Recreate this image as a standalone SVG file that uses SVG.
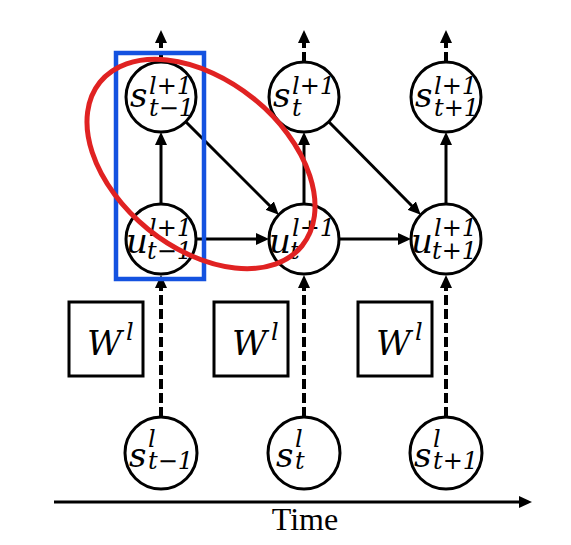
<svg xmlns="http://www.w3.org/2000/svg" width="571" height="545" viewBox="0 0 571 545">
<style>
.c{fill:#fff;stroke:#000;stroke-width:3}
.b{fill:#fff;stroke:#000;stroke-width:3}
.m{font-family:"DejaVu Serif","Liberation Serif",serif;font-style:italic;fill:#000}
.big{font-size:34px}
.sm{font-size:24px}
.e{stroke:#000;stroke-width:3;fill:none}
.d{stroke:#000;stroke-width:4;fill:none;stroke-dasharray:10 4}
</style>
<defs>
<marker id="ah" markerUnits="userSpaceOnUse" markerWidth="14" markerHeight="12" refX="2" refY="6" orient="auto">
<path d="M0,0 L13,6 L0,12 z" fill="#000"/>
</marker>
</defs>
<rect width="571" height="545" fill="#fff"/>
<g id="connectors">
<line class="d" x1="161" y1="62" x2="161" y2="41" marker-end="url(#ah)"/>
<line class="d" x1="304" y1="62" x2="304" y2="41" marker-end="url(#ah)"/>
<line class="d" x1="446" y1="62" x2="446" y2="41" marker-end="url(#ah)"/>
<line class="e" x1="161" y1="204" x2="161" y2="143" marker-end="url(#ah)"/>
<line class="e" x1="304" y1="204" x2="304" y2="143" marker-end="url(#ah)"/>
<line class="e" x1="446" y1="204" x2="446" y2="143" marker-end="url(#ah)"/>
<line class="e" x1="196" y1="239" x2="258" y2="239" marker-end="url(#ah)"/>
<line class="e" x1="339" y1="239" x2="400" y2="239" marker-end="url(#ah)"/>
<line class="e" x1="186" y1="122" x2="271" y2="207" marker-end="url(#ah)"/>
<line class="e" x1="329" y1="122" x2="413" y2="207" marker-end="url(#ah)"/>
<line class="d" x1="161" y1="417" x2="161" y2="286" marker-end="url(#ah)"/>
<line class="d" x1="304" y1="417" x2="304" y2="286" marker-end="url(#ah)"/>
<line class="d" x1="446" y1="417" x2="446" y2="286" marker-end="url(#ah)"/>
<line class="e" x1="54" y1="502" x2="521" y2="502" marker-end="url(#ah)"/>
</g>
<g id="s_tm1_l1">
<circle class="c" cx="161" cy="97" r="35"/>
<text class="m big" x="130" y="107">s</text>
<text class="m sm" x="149" y="94">l+1</text>
<text class="m sm" x="149" y="116">t−1</text>
</g>
<g id="s_t_l1">
<circle class="c" cx="304" cy="97" r="35"/>
<text class="m big" x="273" y="107">s</text>
<text class="m sm" x="292" y="94">l+1</text>
<text class="m sm" x="292" y="116">t</text>
</g>
<g id="s_tp1_l1">
<circle class="c" cx="446" cy="97" r="35"/>
<text class="m big" x="415" y="107">s</text>
<text class="m sm" x="434" y="94">l+1</text>
<text class="m sm" x="434" y="116">t+1</text>
</g>
<g id="u_tm1_l1">
<circle class="c" cx="161" cy="239" r="35"/>
<text class="m big" x="126" y="253">u</text>
<text class="m sm" x="149" y="236">l+1</text>
<text class="m sm" x="147" y="259">t−1</text>
</g>
<g id="u_t_l1">
<circle class="c" cx="304" cy="239" r="35"/>
<text class="m big" x="269" y="253">u</text>
<text class="m sm" x="292" y="236">l+1</text>
<text class="m sm" x="290" y="259">t</text>
</g>
<g id="u_tp1_l1">
<circle class="c" cx="446" cy="239" r="35"/>
<text class="m big" x="411" y="253">u</text>
<text class="m sm" x="434" y="236">l+1</text>
<text class="m sm" x="432" y="259">t+1</text>
</g>
<g id="W1">
<rect class="b" x="69" y="302" width="74" height="74"/>
<text class="m big" x="87" y="355">W</text>
<text class="m sm" x="126" y="340">l</text>
</g>
<g id="W2">
<rect class="b" x="214" y="302" width="74" height="74"/>
<text class="m big" x="232" y="355">W</text>
<text class="m sm" x="271" y="340">l</text>
</g>
<g id="W3">
<rect class="b" x="358" y="302" width="74" height="74"/>
<text class="m big" x="376" y="355">W</text>
<text class="m sm" x="415" y="340">l</text>
</g>
<g id="s_tm1_l">
<circle class="c" cx="161" cy="453" r="36"/>
<text class="m big" x="129" y="467">s</text>
<text class="m sm" x="148" y="447">l</text>
<text class="m sm" x="148" y="469">t−1</text>
</g>
<g id="s_t_l">
<circle class="c" cx="304" cy="453" r="36"/>
<text class="m big" x="276" y="467">s</text>
<text class="m sm" x="295" y="447">l</text>
<text class="m sm" x="295" y="469">t</text>
</g>
<g id="s_tp1_l">
<circle class="c" cx="446" cy="453" r="36"/>
<text class="m big" x="414" y="467">s</text>
<text class="m sm" x="433" y="447">l</text>
<text class="m sm" x="433" y="469">t+1</text>
</g>
<g id="highlights">
<rect x="116" y="53" width="88" height="226" fill="none" stroke="#1452e0" stroke-width="4.5"/>
<ellipse cx="201" cy="164" rx="130" ry="84" transform="rotate(39 201 164)" fill="none" stroke="#e02222" stroke-width="5"/>
</g>
<text x="305" y="530" text-anchor="middle" font-family="Liberation Serif, serif" font-size="32" fill="#000">Time</text>
</svg>
